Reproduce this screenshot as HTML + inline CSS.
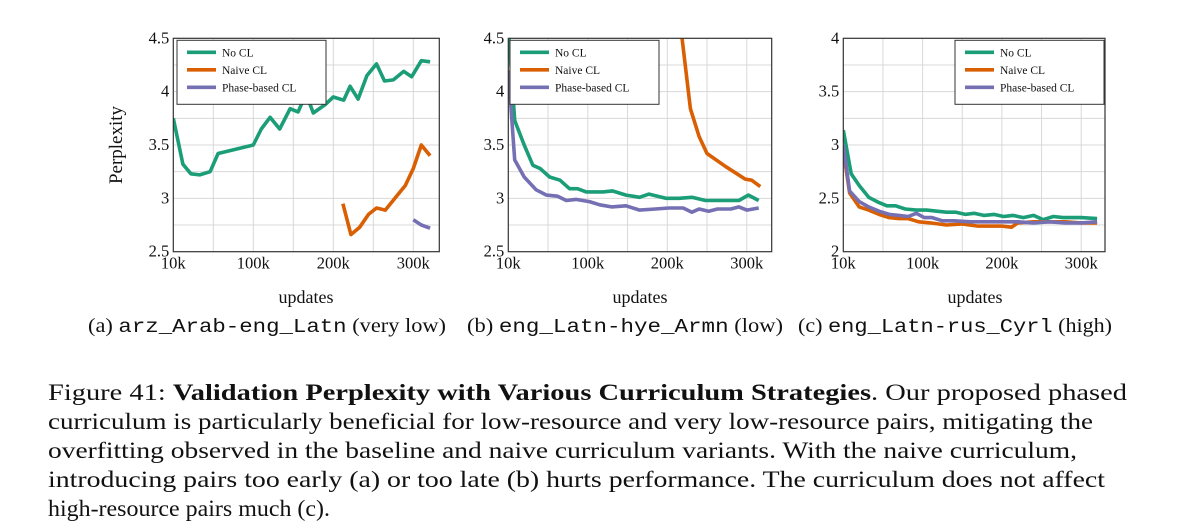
<!DOCTYPE html>
<html><head><meta charset="utf-8"><style>
html,body{margin:0;padding:0;background:#fff;}
svg{display:block;}
text{font-family:"Liberation Serif",serif;fill:#111;}
.mono{font-family:"Liberation Mono",monospace;}
</style></head><body>
<svg id="fig" width="1200" height="532" viewBox="0 0 1200 532" xmlns="http://www.w3.org/2000/svg">
<g id="charts"></g>
<text transform="translate(122,145) rotate(-90)" text-anchor="middle" font-size="19">Perplexity</text>
<text x="306" y="303" text-anchor="middle" font-size="18">updates</text>
<text x="640" y="303" text-anchor="middle" font-size="18">updates</text>
<text x="975" y="303" text-anchor="middle" font-size="18">updates</text>
<text x="88" y="332" font-size="19.5" textLength="358" lengthAdjust="spacingAndGlyphs">(a) <tspan class="mono">arz_Arab-eng_Latn</tspan> (very low)</text>
<text x="467" y="332" font-size="19.5" textLength="316" lengthAdjust="spacingAndGlyphs">(b) <tspan class="mono">eng_Latn-hye_Armn</tspan> (low)</text>
<text x="798" y="332" font-size="19.5" textLength="314" lengthAdjust="spacingAndGlyphs">(c) <tspan class="mono">eng_Latn-rus_Cyrl</tspan> (high)</text>
<g font-size="23">
<text x="48" y="400" textLength="1079" lengthAdjust="spacingAndGlyphs">Figure 41: <tspan font-weight="bold">Validation Perplexity with Various Curriculum Strategies</tspan>. Our proposed phased</text>
<text x="48" y="429" textLength="1045" lengthAdjust="spacingAndGlyphs">curriculum is particularly beneficial for low-resource and very low-resource pairs, mitigating the</text>
<text x="48" y="458" textLength="1029" lengthAdjust="spacingAndGlyphs">overfitting observed in the baseline and naive curriculum variants. With the naive curriculum,</text>
<text x="48" y="487" textLength="1057" lengthAdjust="spacingAndGlyphs">introducing pairs too early (a) or too late (b) hurts performance. The curriculum does not affect</text>
<text x="48" y="516" textLength="282" lengthAdjust="spacingAndGlyphs">high-resource pairs much (c).</text>
</g>
</svg>
<script>
// x values in thousands of updates (axis origin labelled "10k")
const xTickVals = [0, 100, 200, 300];
const xTickLabels = ["10k", "100k", "200k", "300k"];
const seriesNames = ["No CL", "Naive CL", "Phase-based CL"];

const aGreenX = [0,12,22,33,46,56,100,110,121,133,146,156,166,175,190,200,213,221,231,242,254,264,275,288,298,310,321];
const aGreenY = [3.75,3.32,3.23,3.22,3.25,3.42,3.5,3.65,3.76,3.65,3.84,3.81,3.98,3.8,3.88,3.95,3.92,4.05,3.93,4.15,4.26,4.1,4.11,4.19,4.14,4.29,4.28];
const aOrangeX = [212,222,233,244,254,265,277,290,300,310,321];
const aOrangeY = [2.95,2.66,2.73,2.85,2.91,2.89,3.0,3.12,3.28,3.5,3.4];
const aPurpleX = [300,310,321];
const aPurpleY = [2.8,2.75,2.72];

const bGreenX = [0,8,20,31,40,52,65,77,87,98,119,131,148,165,177,198,215,231,248,269,290,302,315];
const bGreenY = [4.6,3.73,3.5,3.31,3.28,3.2,3.17,3.09,3.09,3.06,3.06,3.07,3.03,3.01,3.04,3.0,3.0,3.01,2.98,2.98,2.98,3.03,2.98];
const bOrangeX = [217,229,240,250,273,298,306,317];
const bOrangeY = [4.6,3.84,3.58,3.42,3.3,3.18,3.17,3.11];
const bPurpleX = [0,8,20,35,48,62,73,85,102,115,130,148,165,185,202,220,231,240,252,263,280,290,300,315];
const bPurpleY = [4.2,3.36,3.2,3.08,3.03,3.02,2.98,2.99,2.97,2.94,2.92,2.93,2.89,2.9,2.91,2.91,2.87,2.9,2.88,2.9,2.9,2.92,2.89,2.91];

const cGreenX = [0,10,20,32,45,55,66,78,92,105,118,130,142,154,165,177,190,202,214,227,240,252,265,277,300,320];
const cGreenY = [3.14,2.73,2.62,2.51,2.46,2.43,2.43,2.4,2.39,2.39,2.38,2.37,2.37,2.35,2.36,2.34,2.35,2.33,2.34,2.32,2.34,2.3,2.33,2.32,2.32,2.31];
const cOrangeX = [0,8,20,32,45,58,70,82,95,110,130,150,170,185,200,212,220,240,260,280,300,320];
const cOrangeY = [2.95,2.55,2.42,2.39,2.35,2.32,2.31,2.31,2.28,2.27,2.25,2.26,2.24,2.24,2.24,2.23,2.27,2.28,2.28,2.28,2.27,2.27];
const cPurpleX = [0,8,20,32,45,58,70,82,92,102,112,125,140,160,180,200,220,240,260,280,300,320];
const cPurpleY = [3.0,2.57,2.47,2.42,2.38,2.35,2.34,2.33,2.36,2.32,2.32,2.29,2.29,2.28,2.28,2.28,2.28,2.27,2.28,2.27,2.27,2.28];

const aYTicks = [2.5,3,3.5,4,4.5];
const bYTicks = [2.5,3,3.5,4,4.5];
const cYTicks = [2,2.5,3,3.5,4];

const COLORS = ["#1b9e77","#d95f02","#7570b3"];
const NS = "http://www.w3.org/2000/svg";
const root = document.getElementById("charts");
function mk(tag, attrs, parent){const e=document.createElementNS(NS,tag);for(const k in attrs)e.setAttribute(k,attrs[k]);parent.appendChild(e);return e;}

function panel(id, left, right, top, bottom, xPer100, ymin, ymax, yTicks, series, legendX){
  const g = mk("g",{},root);
  
  
  const xs = v => left + v/100*xPer100;
  const ys = v => bottom - (v-ymin)/(ymax-ymin)*(bottom-top);
  const clipId = "clip"+id;
  const cp = mk("clipPath",{id:clipId},g); mk("rect",{x:left,y:top,width:right-left,height:bottom-top},cp);
  for(let v=50; xs(v)<right-1; v+=50){
    const l=mk("line",{x1:xs(v),x2:xs(v),y1:top,y2:bottom,stroke:"#d8d8d8","stroke-width":1},g);
    
    
  }
  const step=(yTicks[1]-yTicks[0])/2;
  for(let v=ymin+step; v<ymax-1e-9; v+=step){
    const l=mk("line",{x1:left,x2:right,y1:ys(v),y2:ys(v),stroke:"#d8d8d8","stroke-width":1},g);
    
    
  }
  series.forEach((s,i)=>{
    const p = s[0].map((x,j)=>xs(x).toFixed(1)+","+ys(s[1][j]).toFixed(1)).join(" ");
    const pl=mk("polyline",{points:p,fill:"none",stroke:COLORS[i],"stroke-width":3.6,"stroke-linejoin":"round","clip-path":"url(#"+clipId+")"},g);
    
    
  });
  const fr=mk("rect",{x:left,y:top,width:right-left,height:bottom-top,fill:"none",stroke:"#333","stroke-width":1.2},g);
  
  
  xTickVals.forEach((v,i)=>{
    const t=mk("text",{x:xs(v),y:bottom+17,"text-anchor":"middle","font-size":16.5},g);
    t.textContent=xTickLabels[i];
    
    
  });
  yTicks.forEach(v=>{
    const t=mk("text",{x:left-4,y:ys(v)+5,"text-anchor":"end","font-size":16.5},g);
    t.textContent=String(v);
    
    
  });
  const lg=mk("g",{},g);
  
  
  mk("rect",{x:legendX,y:top+2,width:149,height:64,fill:"#fff",stroke:"#333","stroke-width":1},lg);
  seriesNames.forEach((n,i)=>{
    const yy=top+14+i*17.5;
    const ln=mk("line",{x1:legendX+10,x2:legendX+39,y1:yy,y2:yy,stroke:COLORS[i],"stroke-width":3.6},lg);
    
    
    const t=mk("text",{x:legendX+45,y:yy+4,"font-size":11.5},lg);
    t.textContent=n;
    
    
  });
}
panel("a",173.3,439.3,38.3,251.7,80,2.5,4.5,aYTicks,[[aGreenX,aGreenY],[aOrangeX,aOrangeY],[aPurpleX,aPurpleY]],177);
panel("b",508.3,771.7,38.3,251.7,79.5,2.5,4.5,bYTicks,[[bGreenX,bGreenY],[bOrangeX,bOrangeY],[bPurpleX,bPurpleY]],510);
panel("c",843.3,1105,38.3,251.7,79.3,2,4,cYTicks,[[cGreenX,cGreenY],[cOrangeX,cOrangeY],[cPurpleX,cPurpleY]],955);
</script>
</body></html>
